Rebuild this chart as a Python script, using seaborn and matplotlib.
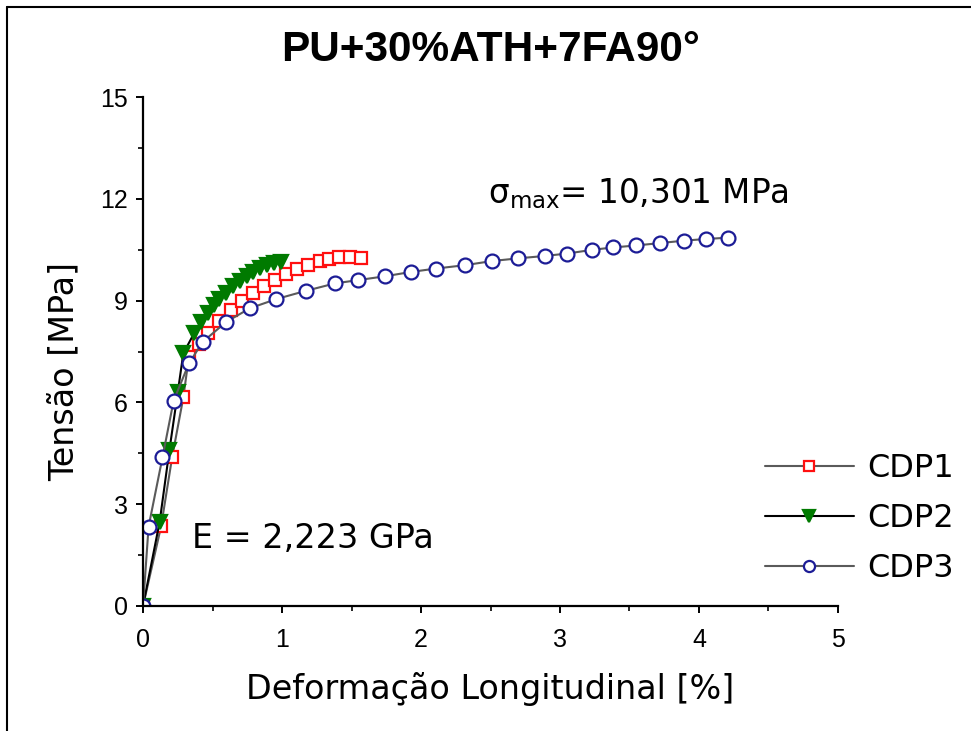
import numpy as np
import pandas as pd
import seaborn as sns
import matplotlib.pyplot as plt
from matplotlib.lines import Line2D

# CDP1 - red squares
x1 = [0, 0.13, 0.21, 0.29, 0.33, 0.40, 0.47, 0.55, 0.63, 0.71, 0.79, 0.87, 0.95, 1.03, 1.11, 1.19, 1.27, 1.34, 1.41, 1.49, 1.57]
y1 = [0, 2.35, 4.40, 6.15, 7.35, 7.72, 8.05, 8.40, 8.72, 8.98, 9.22, 9.42, 9.62, 9.79, 9.94, 10.06, 10.16, 10.24, 10.29, 10.30, 10.25]

# CDP2 - green triangles
x2 = [0, 0.12, 0.19, 0.25, 0.29, 0.37, 0.42, 0.47, 0.51, 0.55, 0.60, 0.65, 0.70, 0.75, 0.79, 0.84, 0.89, 0.94, 0.99]
y2 = [0, 2.49, 4.60, 6.30, 7.45, 8.06, 8.38, 8.64, 8.86, 9.05, 9.24, 9.42, 9.58, 9.73, 9.86, 9.97, 10.05, 10.10, 10.13]

# CDP3 - blue circles
x3 = [0, 0.04, 0.14, 0.22, 0.33, 0.43, 0.60, 0.77, 0.96, 1.17, 1.38, 1.55, 1.74, 1.93, 2.11, 2.32, 2.51, 2.70, 2.89, 3.05, 3.23, 3.38, 3.55, 3.72, 3.89, 4.05, 4.21]
y3 = [0, 2.34, 4.38, 6.05, 7.15, 7.79, 8.38, 8.78, 9.05, 9.29, 9.51, 9.61, 9.72, 9.85, 9.95, 10.05, 10.17, 10.25, 10.32, 10.39, 10.50, 10.57, 10.63, 10.70, 10.77, 10.82, 10.86]

labels = ["CDP1", "CDP2", "CDP3"]

sns.set_style("ticks")
plt.rcParams["font.family"] = ["DejaVu Sans"]
plt.rcParams["text.color"] = "black"
plt.rcParams["axes.labelcolor"] = "black"
plt.rcParams["mathtext.fontset"] = "dejavusans"
narrow = ["Liberation Sans", "DejaVu Sans"]

fig = plt.figure(figsize=(9.71, 7.31), dpi=100)
ax = fig.add_axes([0.1473, 0.171, 0.7157, 0.696])

style = [
    dict(x=x1, y=y1, color="#5a5a5a", marker="s", mec="#ff1010", mfc="white", ms=9.3),
    dict(x=x2, y=y2, color="black", marker="v", mec="#007a00", mfc="#007a00", ms=10.5),
    dict(x=x3, y=y3, color="#5a5a5a", marker="o", mec="#1c1c96", mfc="white", ms=10),
]
for lab, s in zip(labels, style):
    sns.lineplot(x=s["x"], y=s["y"], ax=ax, sort=False, estimator=None,
                 color=s["color"], lw=1.5, marker=s["marker"], markersize=s["ms"],
                 markeredgecolor=s["mec"], markerfacecolor=s["mfc"],
                 markeredgewidth=1.6, label=lab)

ax.set_xlim(0, 5)
ax.set_ylim(0, 15)
ax.set_xticks([0, 1, 2, 3, 4, 5])
ax.set_xticks([0.5, 1.5, 2.5, 3.5, 4.5], minor=True)
ax.set_yticks([0, 3, 6, 9, 12, 15])
ax.set_yticks([1.5, 4.5, 7.5, 10.5, 13.5], minor=True)
sns.despine(ax=ax)
for sp in ["left", "bottom"]:
    ax.spines[sp].set_linewidth(1.6)
    ax.spines[sp].set_color("black")
ax.tick_params(which="major", direction="out", length=5, width=1.4, colors="black")
ax.tick_params(which="minor", direction="out", length=3.5, width=1.2, colors="black")
ax.tick_params(axis="x", pad=11)
ax.tick_params(axis="y", pad=6)
for t in ax.get_xticklabels() + ax.get_yticklabels():
    t.set_family(narrow)
    t.set_fontsize(18)

ax.set_xlabel("Deformação Longitudinal [%]", fontsize=24)
ax.set_ylabel("Tensão [MPa]", fontsize=24)
ax.xaxis.set_label_coords(0.5, -0.13)
ax.yaxis.set_label_coords(-0.09, 0.46)

fig.text(0.505, 0.932, "PU+30%ATH+7FA90°", family=narrow, fontweight="bold",
         fontsize=30.5, ha="center", va="center")

ax.text(0.35, 1.71, "E = 2,223 GPa", fontsize=24, va="baseline")
ax.text(2.48, 11.88, r"σ$_{\mathregular{max}}$= 10,301 MPa", fontsize=23.5, va="baseline")

ax.legend(loc="upper left", bbox_to_anchor=(0.758, 0.42),
          bbox_transform=fig.transFigure, frameon=False, fontsize=23,
          handlelength=2.8, handletextpad=0.4, labelspacing=0.6, numpoints=1,
          markerscale=0.8)

# frame around the figure
fig.add_artist(Line2D([7 / 971, 7 / 971], [0, 1 - 7 / 731], transform=fig.transFigure, color="black", lw=1.5))
fig.add_artist(Line2D([7 / 971, 1], [1 - 7 / 731, 1 - 7 / 731], transform=fig.transFigure, color="black", lw=1.5))

fig.savefig("out.png", dpi=100)
